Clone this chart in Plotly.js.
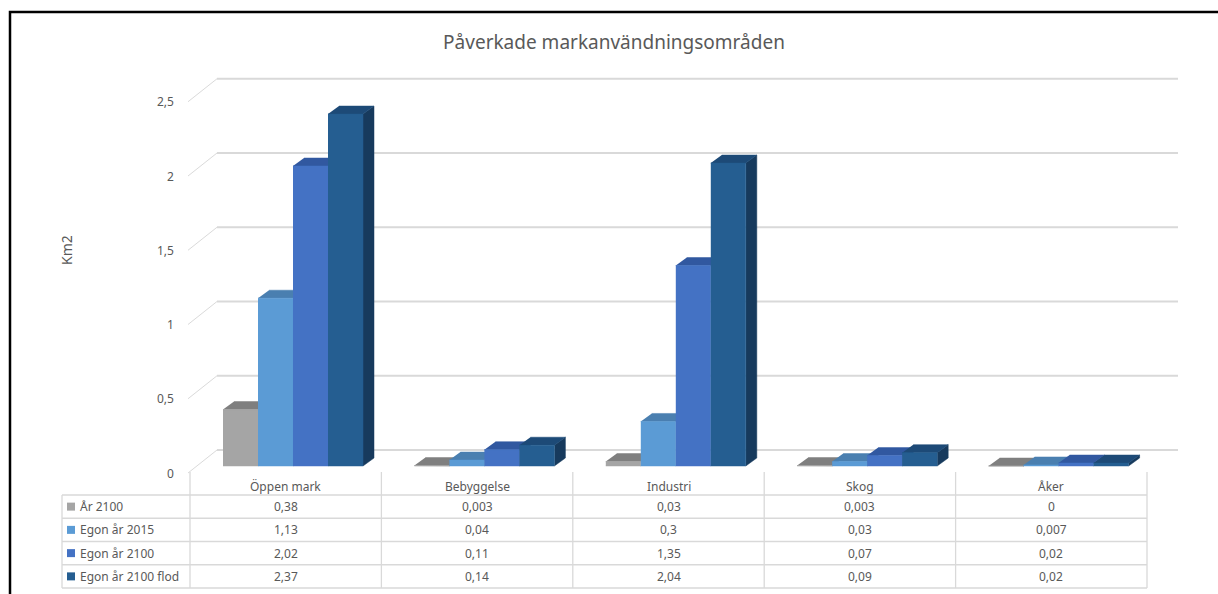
<!DOCTYPE html>
<html>
<head>
<meta charset="utf-8">
<script src="https://cdn.plot.ly/plotly-3.0.1.min.js"></script>
<style>
  html, body { margin: 0; padding: 0; background: #fff; }
  #chart { width: 1218px; height: 594px; }
</style>
</head>
<body>
<div id="chart"></div>
<script>
// Affected land-use areas (km2) per scenario
const categories = ['Öppen mark', 'Bebyggelse', 'Industri', 'Skog', 'Åker'];
const seriesNames = ['År 2100', 'Egon år 2015', 'Egon år 2100', 'Egon år 2100 flod'];
const ar2100 = [0.38, 0.003, 0.03, 0.003, 0];
const egon2015 = [1.13, 0.04, 0.3, 0.03, 0.007];
const egon2100 = [2.02, 0.11, 1.35, 0.07, 0.02];
const egon2100flod = [2.37, 0.14, 2.04, 0.09, 0.02];
const yTickValues = [0, 0.5, 1, 1.5, 2, 2.5];
const yTickLabels = ['0', '0,5', '1', '1,5', '2', '2,5'];

const seriesValues = [ar2100, egon2015, egon2100, egon2100flod];

// Face shading for each series: front, top, right side
const frontColors = ['#A5A5A5', '#5B9BD5', '#4472C4', '#255E91'];
const topColors   = ['#7F7F7F', '#4A7FB0', '#3158A0', '#1D4A77'];
const sideColors  = ['#6B6B6B', '#41729F', '#2C4F8F', '#173A5D'];

// ---- geometry (pixel sizes converted into axis units) ----
const W = 1218, H = 594;
const COL = 191.4;      // px per category column
const PXY = 148.5;      // px per km2
const X0PX = 190;       // left edge of first column
const Y0PX = 466;       // bar baseline
const ux = p => p / COL;
const uy = p => p / PXY;
const px2x = p => -0.5 + (p - X0PX) / COL;
const py2paper = p => 1 - p / H;

const BAR_W = ux(35), GROUP_OFF = ux(33);
const BDX = ux(11), BDY = uy(8);               // bar depth
const WALL_BACK = uy(16), WALL_FRONT = -uy(7);  // floor depth offsets
const WALL_XF = px2x(188), WALL_XB = px2x(217), WALL_XR = px2x(1178);

const FONT = 'Noto Sans, Open Sans, sans-serif';
const TXT = '#595959';
const GRID = '#D9D9D9';

const traces = [];

// back wall and side wall gridlines
const gx = [], gy = [];
yTickValues.forEach(v => {
  gx.push(WALL_XF, WALL_XB, null);
  gy.push(v + WALL_FRONT, v + WALL_BACK, null);
});
traces.push({type: 'scatter', mode: 'lines', x: gx, y: gy,
  line: {color: '#DADADA', width: 1}, hoverinfo: 'skip', showlegend: false});
const bx = [], by = [];
yTickValues.forEach(v => {
  bx.push(WALL_XB, WALL_XR, null);
  by.push(v + WALL_BACK, v + WALL_BACK, null);
});
traces.push({type: 'scatter', mode: 'lines', x: bx, y: by,
  line: {color: GRID, width: 2}, hoverinfo: 'skip', showlegend: false});

// 3D bars: side, top and front faces, painted left to right
seriesValues.forEach((vals, s) => {
  const side = {x: [], y: []}, top = {x: [], y: []}, front = {x: [], y: []};
  vals.forEach((v, i) => {
    const l = i - 0.5 + GROUP_OFF + s * BAR_W;
    const r = l + BAR_W;
    side.x.push(r, r + BDX, r + BDX, r, null);
    side.y.push(0, BDY, v + BDY, v, null);
    top.x.push(l, r, r + BDX, l + BDX, null);
    top.y.push(v, v, v + BDY, v + BDY, null);
    front.x.push(l, r, r, l, null);
    front.y.push(0, 0, v, v, null);
  });
  [[side, sideColors[s]], [top, topColors[s]], [front, frontColors[s]]].forEach(([f, c]) => {
    traces.push({type: 'scatter', mode: 'lines', x: f.x, y: f.y, fill: 'toself',
      fillcolor: c, line: {color: c, width: 0.5}, hoverinfo: 'skip',
      showlegend: false, name: seriesNames[s]});
  });
});

// ---- annotations ----
const annotations = [];
yTickValues.forEach((v, k) => {
  annotations.push({xref: 'x', yref: 'y', x: px2x(176), y: v + WALL_FRONT,
    text: yTickLabels[k], showarrow: false, xanchor: 'right', yanchor: 'middle',
    font: {family: FONT, size: 12, color: TXT}});
});
annotations.push({xref: 'paper', yref: 'paper', x: 67 / W, y: py2paper(250),
  text: 'Km2', textangle: -90, showarrow: false, xanchor: 'center', yanchor: 'middle',
  font: {family: FONT, size: 14, color: TXT}});

// ---- data table ----
const shapes = [];
const TABLE_TOP = 472;
const ROW_LINES = [495, 518.25, 541.5, 564.75, 588];
const TABLE_LEFT = px2x(62);
const line = (x0, y0, x1, y1) => ({type: 'line', xref: 'x', yref: 'paper',
  x0, x1, y0: py2paper(y0), y1: py2paper(y1), line: {color: GRID, width: 1.3}, layer: 'below'});

for (let i = 0; i <= categories.length; i++) {
  shapes.push(line(i - 0.5, TABLE_TOP, i - 0.5, ROW_LINES[ROW_LINES.length - 1]));
}
shapes.push(line(TABLE_LEFT, ROW_LINES[0], TABLE_LEFT, ROW_LINES[ROW_LINES.length - 1]));
ROW_LINES.forEach(y => shapes.push(line(TABLE_LEFT, y, categories.length - 0.5, y)));

const fmt = v => String(v).replace('.', ',');
categories.forEach((c, i) => {
  annotations.push({xref: 'x', yref: 'paper', x: i, y: py2paper(486.5), text: c,
    showarrow: false, xanchor: 'center', yanchor: 'middle',
    font: {family: FONT, size: 12, color: TXT}});
});
seriesValues.forEach((vals, s) => {
  const yc = (ROW_LINES[s] + ROW_LINES[s + 1]) / 2;
  shapes.push({type: 'rect', xref: 'x', yref: 'paper', x0: px2x(67), x1: px2x(75),
    y0: py2paper(yc + 4), y1: py2paper(yc - 4), fillcolor: frontColors[s], line: {width: 0}});
  annotations.push({xref: 'x', yref: 'paper', x: px2x(78), y: py2paper(yc), text: seriesNames[s],
    showarrow: false, xanchor: 'left', yanchor: 'middle',
    font: {family: FONT, size: 12, color: TXT}});
  vals.forEach((v, i) => {
    annotations.push({xref: 'x', yref: 'paper', x: i, y: py2paper(yc), text: fmt(v),
      showarrow: false, xanchor: 'center', yanchor: 'middle',
      font: {family: FONT, size: 12, color: TXT}});
  });
});

// chart frame
shapes.push({type: 'rect', xref: 'paper', yref: 'paper', x0: 10 / W, x1: 1.05,
  y0: -0.05, y1: py2paper(12), line: {color: '#000', width: 2.5}, fillcolor: 'rgba(0,0,0,0)'});

const layout = {
  width: W, height: H,
  margin: {l: 0, r: 0, t: 0, b: 0},
  paper_bgcolor: '#fff', plot_bgcolor: 'rgba(0,0,0,0)',
  title: {text: 'Påverkade markanvändningsområden', x: 614 / W, xanchor: 'center',
    y: py2paper(42), yanchor: 'middle', font: {family: FONT, size: 19, color: TXT}},
  xaxis: {range: [px2x(0), px2x(W)], visible: false, fixedrange: true},
  yaxis: {range: [-(H - Y0PX) / PXY, Y0PX / PXY], visible: false, fixedrange: true},
  showlegend: false,
  shapes, annotations
};

Plotly.newPlot('chart', traces, layout, {displayModeBar: false, staticPlot: true});
</script>
</body>
</html>
